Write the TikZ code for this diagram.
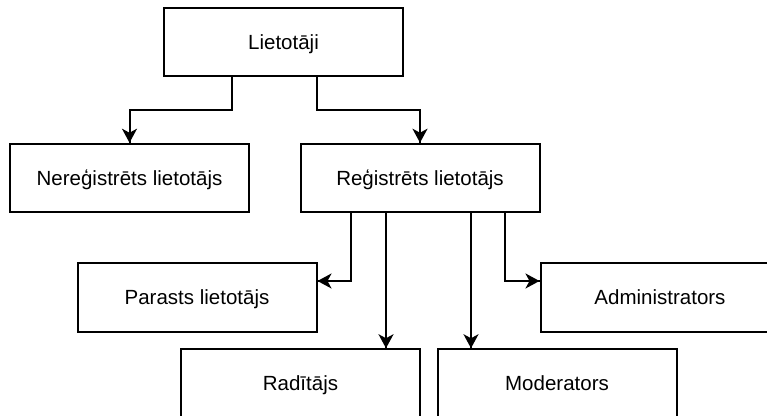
\documentclass[tikz,border=0pt]{standalone}
\usepackage{fontspec}
\setmainfont{Liberation Sans}
\usepackage{tikz}
\usetikzlibrary{arrows.meta}
\usetikzlibrary{decorations.markings}
\tikzset{arr/.style = {decoration={markings,
                                   mark=at position 1 with {\arrow{Stealth[length=7pt, width=7.5pt, inset=2pt]}}},
                       postaction={decorate}}}
\tikzset{box/.style = {draw, line width = 1pt, inner sep = 0,
                       minimum width = 119.5pt, minimum height = 34.25pt,
                       text height = 7.4pt, text depth = 0pt,
                       font = \fontsize{10.25}{12}\selectfont}}

\begin{document}
\begin{tikzpicture}[x = 0.5pt, y = -0.5pt, line width = 1pt]
      \useasboundingbox (0, 0) rectangle (767, 416);

      \node [box] (lietotaji) at (283.5, 42) {Lietotāji};
      \node [box] (nereg) at (129.5, 178) {Nereģistrēts lietotājs};
      \node [box] (reg) at (420, 178) {Reģistrēts lietotājs};
      \node [box] (parasts) at (197, 297.5) {Parasts lietotājs};
      \node [box] (admin) at (660, 297.5) {Administrators};
      \node [box] (raditajs) at (300.5, 383.5) {Radītājs};
      \node [box] (moder) at (557, 383.5) {Moderators};

      \coordinate (l1) at ([shift={(-51.5, 0)}]lietotaji.south);
      \coordinate (l2) at ([shift={(33.5, 0)}]lietotaji.south);
      \coordinate (r1) at ([shift={(-69, 0)}]reg.south);
      \coordinate (r2) at ([shift={(-34, 0)}]reg.south);
      \coordinate (r3) at ([shift={(51, 0)}]reg.south);
      \coordinate (r4) at ([shift={(85, 0)}]reg.south);

      \draw [arr] (l1) -- ++(0, 33) -| (nereg.north);
      \draw [arr] (l2) -- ++(0, 33) -| (reg.north);
      \draw [arr] (r1) |- ([shift={(0, -16.5)}]parasts.east);
      \draw [arr] (r2) -- (r2 |- raditajs.north);
      \draw [arr] (r3) -- (r3 |- moder.north);
      \draw [arr] (r4) |- ([shift={(0, -16.5)}]admin.west);
\end{tikzpicture}
\end{document}
